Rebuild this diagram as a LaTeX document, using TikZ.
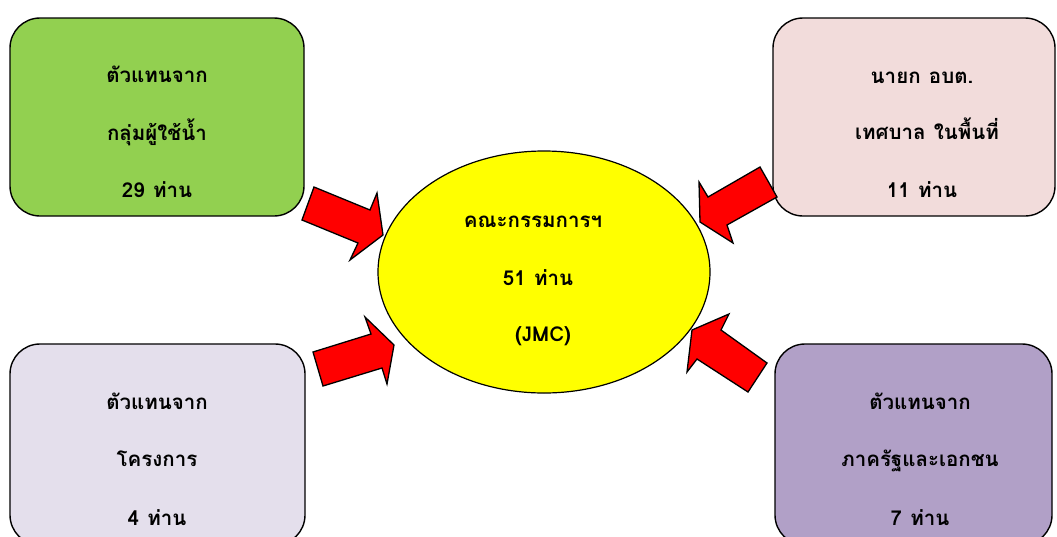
\documentclass[tikz,border=0pt]{standalone}
\usepackage{fontspec}
\usetikzlibrary{shapes.geometric}
\newfontfamily\thaifont[Script=Thai,WordSpace=1.2]{Loma}
\definecolor{boxgreen}{HTML}{92D050}
\definecolor{boxpink}{HTML}{F2DCDB}
\definecolor{boxlilac}{HTML}{E4DFEC}
\definecolor{boxpurple}{HTML}{B1A0C7}
\definecolor{jmcyellow}{HTML}{FFFF00}
\definecolor{arrowred}{HTML}{FF0000}
\begin{document}
\begin{tikzpicture}[x=1pt,y=-1pt,
  group/.style={draw=black,line width=1.4pt,rounded corners=30pt,inner sep=0pt},
  label/.style={font=\thaifont\bfseries\fontsize{20.5}{24}\selectfont,anchor=base,inner sep=0pt},
  blockarrow/.style={draw=black,line width=1.3pt,fill=arrowred,line join=miter}]
\useasboundingbox (0,0) rectangle (1057,536);

% member groups
\node[group,fill=boxgreen,minimum width=294pt,minimum height=198pt] (users) at (157,117) {};
\node[group,fill=boxpink,minimum width=282pt,minimum height=198pt] (local) at (914,117) {};
\node[group,fill=boxlilac,minimum width=295pt,minimum height=201pt] (project) at (157.5,444.5) {};
\node[group,fill=boxpurple,minimum width=277pt,minimum height=201pt] (agency) at (913.5,444.5) {};

% committee
\node[draw=black,line width=1.2pt,fill=jmcyellow,ellipse,minimum width=332pt,minimum height=242pt,inner sep=0pt] (jmc) at (544,272) {};

% texts
\node[label] (u1) at (157,82) {ตัวแทนจาก};
\node[label] (u2) at (157,140) {กลุ่มผู้ใช้น้ำ};
\node[label] (u3) at (157,197) {29 ท่าน};

\node[label] (l1) at (922,83) {นายก อบต.};
\node[label] (l2) at (927,139) {เทศบาล ในพื้นที่};
\node[label] (l3) at (922,197) {11 ท่าน};

\node[label] (p1) at (157,409) {ตัวแทนจาก};
\node[label] (p2) at (157,466) {โครงการ};
\node[label] (p3) at (157,525) {4 ท่าน};

\node[label] (a1) at (920,409) {ตัวแทนจาก};
\node[label] (a2) at (920,466) {ภาครัฐและเอกชน};
\node[label] (a3) at (920,525) {7 ท่าน};

\node[label] (j1) at (533,227) {คณะกรรมการฯ};
\node[label] (j2) at (538,285) {51 ท่าน};
\node[label] (j3) at (543,341) {(JMC)};

% block arrows pointing at the committee
\draw[blockarrow] (302,220) -- (314,187) -- (370,210) -- (377,193) -- (383,235)
  -- (350,260) -- (358,243) -- cycle;
\draw[blockarrow] (313,352) -- (323,386) -- (382,368) -- (387,384) -- (394,345)
  -- (365,317) -- (371,334) -- cycle;
\draw[blockarrow] (760,167) -- (777,197) -- (727,225) -- (733,243) -- (700,222)
  -- (699,182) -- (708,197) -- cycle;
\draw[blockarrow] (767,363) -- (748,392) -- (697,359) -- (687,372) -- (692,330)
  -- (729,314) -- (721,330) -- cycle;
\end{tikzpicture}
\end{document}
